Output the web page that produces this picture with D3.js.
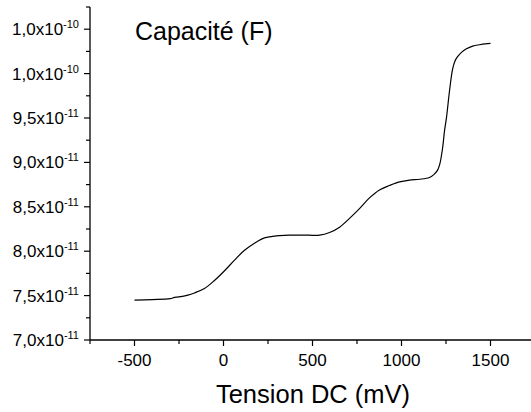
<!DOCTYPE html>
<html><head><meta charset="utf-8">
<script src="https://cdn.jsdelivr.net/npm/d3@7"></script>
<style>
html,body{margin:0;padding:0;background:#fff;}
svg{display:block;font-family:"Liberation Sans",Arial,sans-serif;}
</style></head>
<body>
<svg id="c" width="531" height="412"></svg>
<script>
// Data (voltage in mV, capacitance in units of 1e-11 F)
const voltage = [-500,-400,-300,-275,-250,-200,-163,-107,-51,6,62,118,174,230,287,315,370,427,480,539,596,652,708,764,820,876,933,989,1045,1101,1157,1180,1202,1215,1230,1242,1253,1270,1287,1300,1315,1340,1365,1400,1438,1470,1500];
const capacitance = [7.45,7.455,7.465,7.48,7.485,7.505,7.53,7.58,7.67,7.78,7.90,8.01,8.09,8.15,8.17,8.175,8.18,8.18,8.18,8.18,8.21,8.27,8.37,8.48,8.60,8.69,8.74,8.78,8.80,8.81,8.83,8.86,8.91,8.98,9.15,9.36,9.51,9.81,10.05,10.14,10.19,10.245,10.28,10.31,10.325,10.335,10.34];
const yTicks = [7.0,7.5,8.0,8.5,9.0,9.5,10.0,10.5];
const yTickMant = ["7,0","7,5","8,0","8,5","9,0","9,5","1,0","1,0"];
const yTickExp = ["-11","-11","-11","-11","-11","-11","-10","-10"];
const xTicks = [-500,0,500,1000,1500];
const xLabel = "Tension DC (mV)";
const yTitle = "Capacité (F)";

const svg = d3.select("#c");
const x = d3.scaleLinear().domain([-750,1750]).range([90,535]);
const y = d3.scaleLinear().domain([7.0,10.75]).range([340,7]);

// axes lines
svg.append("line").attr("x1",90).attr("x2",531).attr("y1",340).attr("y2",340).attr("stroke","#000").attr("stroke-width",1.3);
svg.append("line").attr("x1",90).attr("x2",90).attr("y1",y(10.75)).attr("y2",340).attr("stroke","#000").attr("stroke-width",1.3);

// x ticks
const xMinor = d3.range(-750,1751,250);
svg.selectAll(".xt").data(xMinor).enter().append("line")
  .attr("x1",d=>x(d)).attr("x2",d=>x(d)).attr("y1",340)
  .attr("y2",d=>xTicks.includes(d)?346:344).attr("stroke","#000").attr("stroke-width",1.2);
svg.selectAll(".xl").data(xTicks).enter().append("text")
  .attr("x",d=>x(d)).attr("y",366).attr("text-anchor","middle")
  .attr("font-size",17).text(d=>String(d));

// y ticks
const yMinor = d3.range(0,16).map(i=>7.0+i*0.25);
svg.selectAll(".yt").data(yMinor).enter().append("line")
  .attr("x1",d=>Math.abs((d*2)-Math.round(d*2))<1e-6?84:86).attr("x2",90)
  .attr("y1",d=>y(d)).attr("y2",d=>y(d)).attr("stroke","#000").attr("stroke-width",1.2);
yTicks.forEach((v,i)=>{
  const t = svg.append("text").attr("x",79).attr("y",y(v)+6).attr("text-anchor","end").attr("font-size",17);
  t.append("tspan").text(yTickMant[i]+"x10");
  t.append("tspan").attr("dy",-7).attr("font-size",11).text(yTickExp[i]);
});

// curve
const line = d3.line().x((d,i)=>x(voltage[i])).y((d,i)=>y(capacitance[i])).curve(d3.curveCatmullRom.alpha(0.5));
svg.append("path").datum(voltage).attr("d",line).attr("fill","none").attr("stroke","#000").attr("stroke-width",1.2);

// titles
svg.append("text").attr("x",135).attr("y",40).attr("font-size",25).text(yTitle);
svg.append("text").attr("x",313).attr("y",403).attr("text-anchor","middle").attr("font-size",25.5).text(xLabel);
</script>
</body></html>
